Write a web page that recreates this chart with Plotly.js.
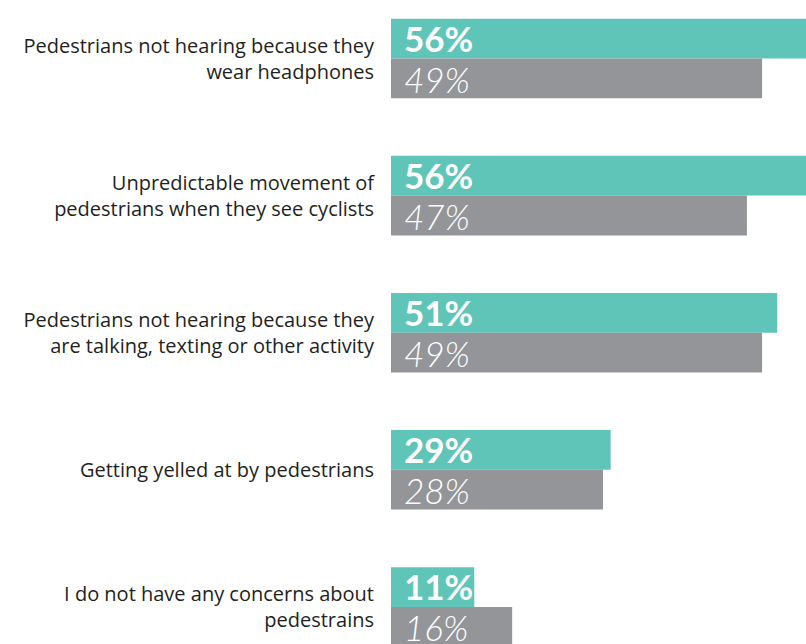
<!DOCTYPE html>
<html>
<head>
<meta charset="utf-8">
<script src="https://cdn.plot.ly/plotly-3.0.1.min.js"></script>
<style>html,body{margin:0;padding:0;background:#fff;}#chart{width:806px;height:644px;}</style>
</head>
<body>
<div id="chart"></div>
<script>
var categories = [
  "Pedestrians not hearing because they<br>wear headphones",
  "Unpredictable movement of<br>pedestrians when they see cyclists",
  "Pedestrians not hearing because they<br>are talking, texting or other activity",
  "Getting yelled at by pedestrians",
  "I do not have any concerns about<br>pedestrains"
];
var seriesA = [56, 56, 51, 29, 11];
var seriesB = [49, 47, 49, 28, 16];

var teal = "#60C5B9";
var grey = "#939598";
var labelFont = "'Open Sans', sans-serif";
var valueFont = "Lato, 'Open Sans', sans-serif";

var traces = [
  {type: "bar", orientation: "h", y: categories, x: seriesA, name: "A",
   marker: {color: teal, line: {width: 0}}, hoverinfo: "none"},
  {type: "bar", orientation: "h", y: categories, x: seriesB, name: "B",
   marker: {color: grey, line: {width: 0}}, hoverinfo: "none"}
];

var annotations = [];
categories.forEach(function (c, i) {
  annotations.push({x: 0, y: c, xref: "x", yref: "y", text: seriesA[i] + "%",
    showarrow: false, xanchor: "left", yanchor: "middle", xshift: 12, yshift: 20.5,
    borderpad: 0,
    font: {family: valueFont, size: 35, color: "#ffffff", weight: 700}});
  annotations.push({x: 0, y: c, xref: "x", yref: "y", text: seriesB[i] + "%",
    showarrow: false, xanchor: "left", yanchor: "middle", xshift: 12, yshift: -20,
    borderpad: 0,
    font: {family: valueFont, size: 35, color: "#ffffff", weight: 300, style: "italic"}});
});

var layout = {
  width: 806, height: 644,
  margin: {l: 391, r: 0, t: 0, b: 0, pad: 0},
  paper_bgcolor: "#ffffff", plot_bgcolor: "#ffffff",
  showlegend: false,
  barmode: "group",
  bargap: 0.42,
  bargroupgap: 0,
  xaxis: {range: [0, 54.8], visible: false, fixedrange: true},
  yaxis: {type: "category", range: [4.27, -0.4266], showgrid: false, zeroline: false,
    showline: false, ticks: "outside", ticklen: 12, tickcolor: "rgba(0,0,0,0)",
    tickfont: {family: labelFont, size: 20, color: "#231f20"}, fixedrange: true},
  annotations: annotations,
  font: {family: labelFont}
};

Plotly.newPlot("chart", traces, layout, {displayModeBar: false, staticPlot: true});
</script>
</body>
</html>
